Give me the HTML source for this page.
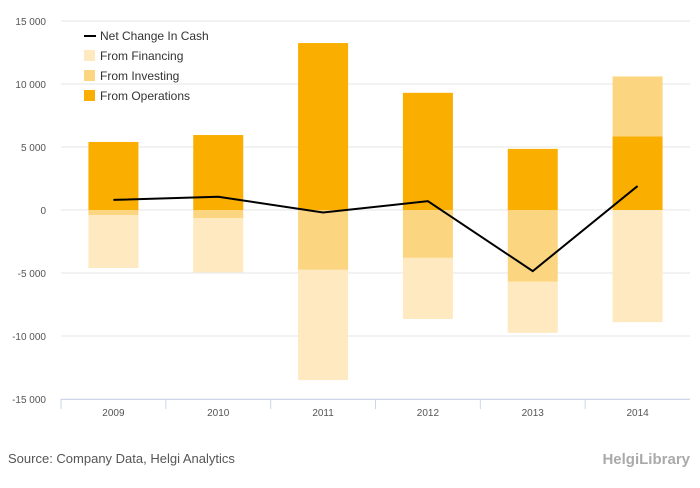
<!DOCTYPE html>
<html><head><meta charset="utf-8"><style>
body{margin:0;background:#fff;font-family:"Liberation Sans",sans-serif;}
svg text{font-family:"Liberation Sans",sans-serif;}
</style></head><body>
<svg id="chart" width="700" height="483">
<g id="grid"></g><g id="bars"></g><g id="line"></g><g id="axes"></g>
<g>
<line x1="84" y1="36" x2="96" y2="36" stroke="#000" stroke-width="2"/>
<text x="100" y="40" font-size="12" fill="#333">Net Change In Cash</text>
<rect x="84" y="50" width="11" height="11" fill="#FEE9C0"/>
<text x="100" y="60" font-size="12" fill="#333">From Financing</text>
<rect x="84" y="70" width="11" height="11" fill="#FCD581"/>
<text x="100" y="80" font-size="12" fill="#333">From Investing</text>
<rect x="84" y="90" width="11" height="11" fill="#F9AE00"/>
<text x="100" y="100" font-size="12" fill="#333">From Operations</text>
</g>
<text x="8" y="463" font-size="13" fill="#555">Source: Company Data, Helgi Analytics</text>
<text x="690" y="464" font-size="15" fill="#aaa" text-anchor="end" font-weight="bold">HelgiLibrary</text>
</svg>
<script>
const categories=["2009","2010","2011","2012","2013","2014"];
const operations=[5400,5950,13250,9300,4850,5850];
const investing=[-400,-650,-4750,-3800,-5700,4750];
const financing=[-4200,-4300,-8750,-4850,-4050,-8900];
const netChange=[800,1050,-200,700,-4850,1900];
const yTicks=[15000,10000,5000,0,-5000,-10000,-15000];
const NS="http://www.w3.org/2000/svg";
const x0=61,x1=690,band=(x1-x0)/categories.length,bw=50;
function y(v){return 210-v*0.0126;}
function xc(i){return x0+band*(i+0.5);}
function mk(g,tag,attrs){const e=document.createElementNS(NS,tag);for(const k in attrs)e.setAttribute(k,attrs[k]);document.getElementById(g).appendChild(e);return e;}
function fmt(v){const s=Math.abs(v).toString();const t=s.length>3?s.slice(0,-3)+" "+s.slice(-3):s;return (v<0?"-":"")+t;}
yTicks.forEach(v=>{
 const l=mk("grid","line",{x1:x0,x2:x1,y1:y(v),y2:y(v),stroke:"#e6e6e6","stroke-width":1});
 
 
 const t=mk("axes","text",{x:46,y:y(v)+4,"font-size":10,fill:"#555","text-anchor":"end"});t.textContent=fmt(v);
 
 
});
const ax=mk("axes","line",{x1:x0,x2:x1,y1:399.5,y2:399.5,stroke:"#ccd6eb"});


categories.forEach((c,i)=>{
 const tk=mk("axes","line",{x1:x0+band*i,x2:x0+band*i,y1:399,y2:409,stroke:"#ccd6eb"});
 
 
 const t=mk("axes","text",{x:xc(i),y:416,"font-size":10,fill:"#555","text-anchor":"middle"});t.textContent=c;
 
 
 let pos=0,neg=0;
 [[operations[i],"#F9AE00","operations"],[investing[i],"#FCD581","investing"],[financing[i],"#FEE9C0","financing"]].forEach(([v,col,n])=>{
  let a,b;
  if(v>=0){a=pos;b=pos+v;pos=b;}else{a=neg;b=neg+v;neg=b;}
  const r=mk("bars","rect",{x:xc(i)-bw/2,width:bw,y:Math.min(y(a),y(b)),height:Math.abs(y(a)-y(b)),fill:col});
  
  
 });
});
const p=mk("line","polyline",{points:netChange.map((v,i)=>xc(i)+","+y(v)).join(" "),fill:"none",stroke:"#000","stroke-width":2});


</script>
</body></html>
